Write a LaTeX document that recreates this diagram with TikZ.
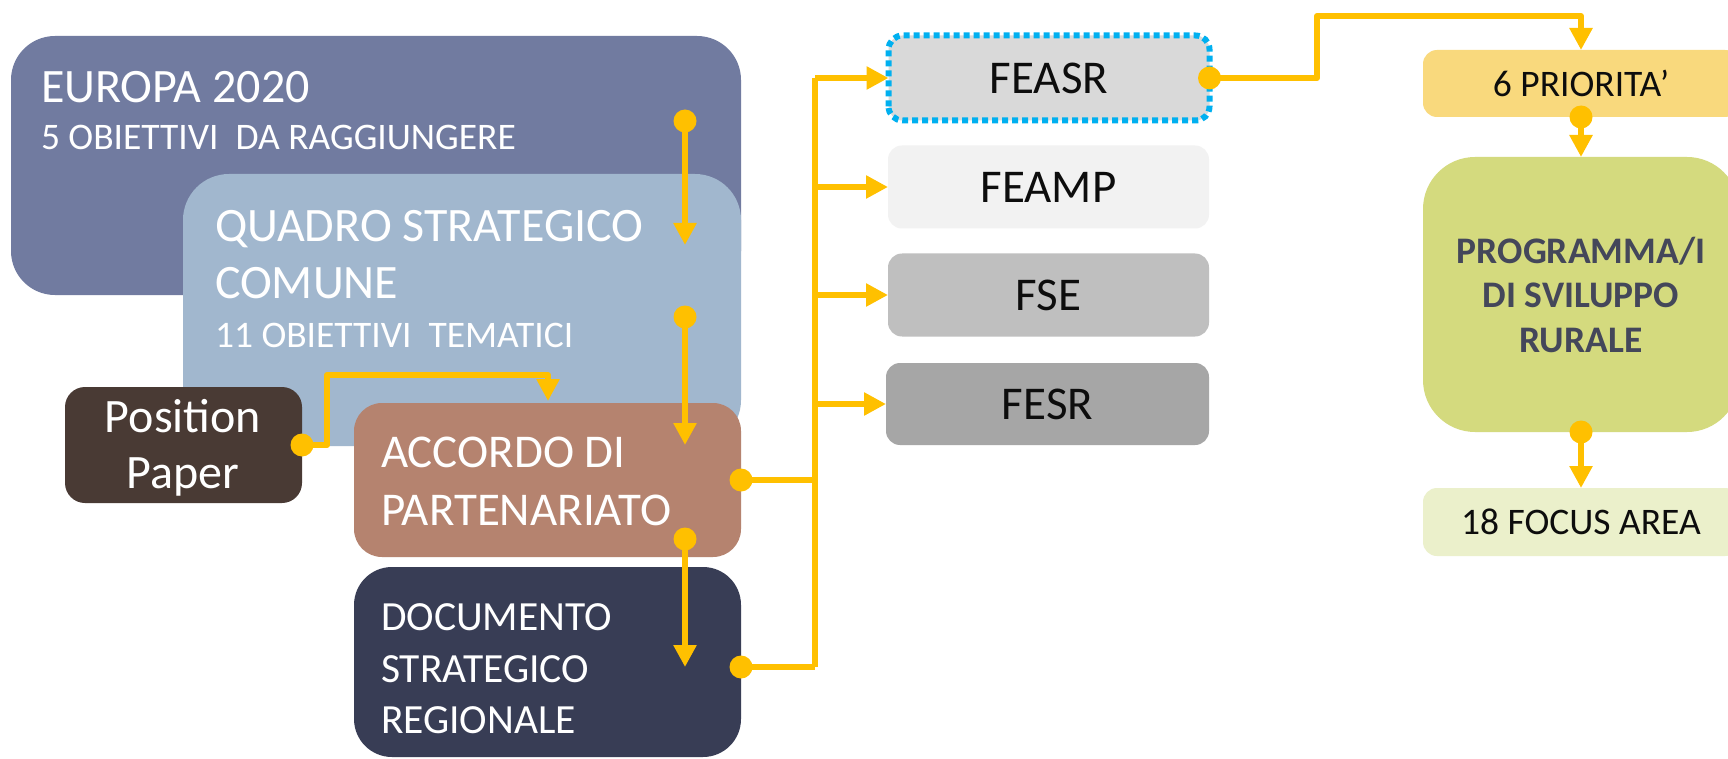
\documentclass[tikz,border=0pt]{standalone}
\usepackage{fontspec}
\setmainfont{Carlito}
\usetikzlibrary{arrows.meta,calc}
\definecolor{cEuropa}{HTML}{717BA0}
\definecolor{cQuadro}{HTML}{A1B7CE}
\definecolor{cPos}{HTML}{493A34}
\definecolor{cAcc}{HTML}{B5836F}
\definecolor{cDoc}{HTML}{383D55}
\definecolor{cFeasr}{HTML}{D9D9D9}
\definecolor{cFeamp}{HTML}{F2F2F2}
\definecolor{cFse}{HTML}{BFBFBF}
\definecolor{cFesr}{HTML}{A6A6A6}
\definecolor{cBlueDot}{HTML}{00B0F0}
\definecolor{cArrow}{HTML}{FFC000}
\definecolor{cPrio}{HTML}{F9D97D}
\definecolor{cProg}{HTML}{D4DA7E}
\definecolor{cFocus}{HTML}{EBF0CB}
\definecolor{cProgTxt}{HTML}{44475A}
\definecolor{cDark}{HTML}{0D0D0D}
\newcommand\fsBig{\fontsize{48}{57}\selectfont}
\newcommand\fsFund{\fontsize{47}{56}\selectfont}
\newcommand\fsAcc{\fontsize{47}{58}\selectfont}
\newcommand\fsMid{\fontsize{41.5}{52}\selectfont}
\newcommand\fsSmall{\fontsize{37.5}{44}\selectfont}
\newcommand\fsProg{\fontsize{37.5}{44.5}\selectfont}
\begin{document}
\begin{tikzpicture}[x=1pt,y=-1pt,
  bx/.style={rectangle, inner sep=0pt, outer sep=0pt, draw=none},
  txt/.style={inner sep=0pt, outer sep=0pt, text=white},
  wire/.style={draw=cArrow, line width=6pt, line join=round},
  conn/.style={wire, -{Triangle[length=22pt,width=22pt]}},
  ]
\useasboundingbox (0,0) rectangle (1728,759);
\clip (0,0) rectangle (1728,759);
\fill[white] (0,0) rectangle (1728,759);

% left boxes
\node[bx, fill=cEuropa, rounded corners=44pt, minimum width=730pt, minimum height=259pt] (europa) at (376,165.5) {};
\node[bx, fill=cQuadro, rounded corners=46pt, minimum width=558pt, minimum height=272pt] (quadro) at (462,310) {};
\node[bx, fill=cPos, rounded corners=20pt, minimum width=237pt, minimum height=116pt] (pos) at (183.5,445) {};
\node[bx, fill=cAcc, rounded corners=28pt, minimum width=387pt, minimum height=154pt] (accordo) at (547.5,480) {};
\node[bx, fill=cDoc, rounded corners=38pt, minimum width=387pt, minimum height=190pt] (doc) at (547.5,662) {};

% texts of left boxes
\node[txt, font=\fsBig, anchor=base west] (teu1) at (41,103) {EUROPA 2020};
\node[txt, font=\fsSmall, anchor=base west] (teu2) at (41,150) {5 OBIETTIVI\ \ DA RAGGIUNGERE};
\node[txt, font=\fsBig, anchor=base west] (tq1) at (215,242) {QUADRO STRATEGICO};
\node[txt, font=\fsBig, anchor=base west] (tq2) at (215,298) {COMUNE};
\node[txt, font=\fsSmall, anchor=base west] (tq3) at (215,347) {11 OBIETTIVI\ \ TEMATICI};
\node[txt, font=\fsBig, anchor=base] (tp1) at (183,432) {Position};
\node[txt, font=\fsBig, anchor=base] (tp2) at (183,488) {Paper};
\node[txt, font=\fsAcc, anchor=base west] (ta1) at (381,467) {ACCORDO DI};
\node[txt, font=\fsAcc, anchor=base west] (ta2) at (381,525) {PARTENARIATO};
\node[txt, font=\fsMid, anchor=base west] (td1) at (381,630) {DOCUMENTO};
\node[txt, font=\fsMid, anchor=base west] (td2) at (381,682) {STRATEGICO};
\node[txt, font=\fsMid, anchor=base west] (td3) at (381,733) {REGIONALE};

% funds
\node[bx, fill=cFeasr, rounded corners=14pt, minimum width=321pt, minimum height=85pt, font=\fsFund, text=cDark] (feasr) at (1049,78) {FEASR};
\draw[cBlueDot, line width=6pt, dash pattern=on 6pt off 4pt, rounded corners=14pt] (feasr.south west) rectangle (feasr.north east);
\node[bx, fill=cFeamp, rounded corners=14pt, minimum width=321pt, minimum height=83pt, font=\fsFund, text=cDark] (feamp) at (1048.5,187) {FEAMP};
\node[bx, fill=cFse, rounded corners=14pt, minimum width=321pt, minimum height=83pt, font=\fsFund, text=cDark] (fse) at (1048.5,295) {FSE};
\node[bx, fill=cFesr, rounded corners=14pt, minimum width=323pt, minimum height=82pt, font=\fsFund, text=cDark] (fesr) at (1047.5,404) {FESR};

% right column
\node[bx, fill=cPrio, rounded corners=14pt, minimum width=316pt, minimum height=67pt, font=\fsSmall, text=cDark] (prio) at (1581,83.5) {6 PRIORITA’};
\node[bx, fill=cProg, rounded corners=52pt, minimum width=316pt, minimum height=275pt, font=\fsProg\bfseries, text=cProgTxt, align=center] (prog) at (1581,294.5) {PROGRAMMA/I\\DI SVILUPPO\\RURALE};
\node[bx, fill=cFocus, rounded corners=14pt, minimum width=316pt, minimum height=68pt, font=\fsSmall, text=cDark] (focus) at (1581,522) {18 FOCUS AREA};

% connector helper coordinates
\coordinate (d1s) at (685,121);
\coordinate (d1e) at (685,245);
\coordinate (d2s) at (685,317);
\coordinate (d2e) at (685,445);
\coordinate (d3s) at (685,539);
\coordinate (d3e) at (685,667);
\coordinate (ppA) at (327,375);
\coordinate (ppEnd) at (548,401);
\coordinate (docE) at (741,667);
\coordinate (tk) at (815,0);
\coordinate (stepX) at (1317,16);

% vertical arrows
\draw[conn] (d1s) -- (d1e);
\draw[conn] (d2s) -- (d2e);
\draw[conn] (d3s) -- (d3e);
% position paper
\draw[conn] (pos.east) -| (ppA) -| (ppEnd);
% trunk
\draw[wire] (accordo.east) -- (accordo.east -| tk);
\draw[wire] (docE) -- (docE -| tk);
\draw[wire] (tk |- feasr.west) -- (tk |- docE);
\foreach \n in {feasr,feamp,fse,fesr}
  \draw[conn] (tk |- \n.west) -- (\n.west);
% right side
\draw[conn] (feasr.east) -| (stepX) -| (prio.north);
\draw[conn] (prio.south) -- (prog.north);
\draw[conn] (prog.south) -- (focus.north);

% dots
\foreach \p in {d1s,d2s,d3s,pos.east,accordo.east,docE,feasr.east,prio.south,prog.south}
  \fill[cArrow] (\p) circle[radius=11.5pt];
\end{tikzpicture}
\end{document}
